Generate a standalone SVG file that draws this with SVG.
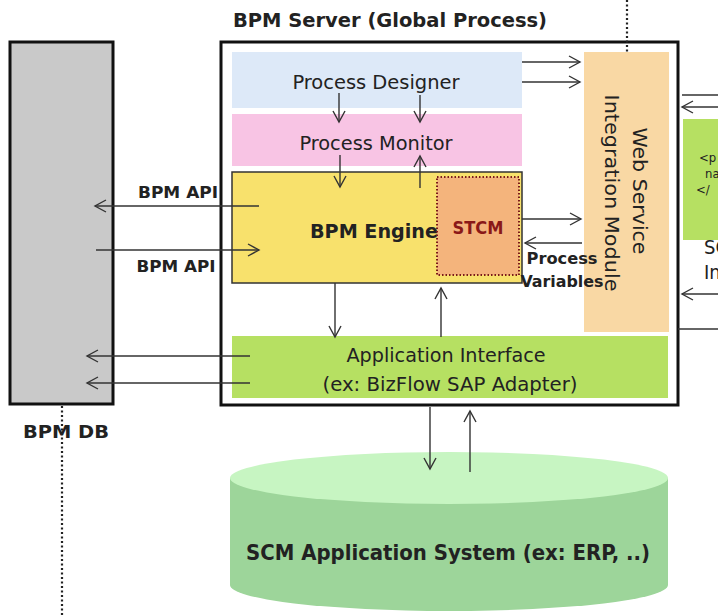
<svg xmlns="http://www.w3.org/2000/svg" width="718" height="616" viewBox="0 0 718 616">
<defs>
<marker id="ah" markerUnits="userSpaceOnUse" markerWidth="14" markerHeight="14" refX="12" refY="7" orient="auto">
<path d="M1,1 L12,7 L1,13" fill="none" stroke="#333" stroke-width="1.4"/>
</marker>
</defs>
<style>
.t{font-family:"DejaVu Sans Condensed","DejaVu Sans",sans-serif;fill:#222}
.b{font-weight:bold}
.c{stroke:#333;stroke-width:1.4;fill:none}
.a{marker-end:url(#ah)}
.dot{stroke:#222;stroke-width:2.2;stroke-dasharray:2,2.5;fill:none}
</style>
<rect width="718" height="616" fill="#fff"/>

<g id="bpm-db">
<rect x="10" y="42" width="103" height="362" fill="#c9c9c9" stroke="#111" stroke-width="3"/>
<text class="t b" x="66" y="438" font-size="18" text-anchor="middle" textLength="86" lengthAdjust="spacingAndGlyphs">BPM DB</text>
</g>

<g id="bpm-server">
<text class="t b" x="390" y="27" font-size="19" text-anchor="middle" textLength="314" lengthAdjust="spacingAndGlyphs">BPM Server (Global Process)</text>
<rect x="221" y="42" width="457" height="363" fill="#fff" stroke="#111" stroke-width="3"/>
</g>

<g id="process-designer">
<rect x="232" y="52" width="290" height="56" fill="#dde9f8"/>
<text class="t" x="376" y="89" font-size="20" text-anchor="middle" textLength="167" lengthAdjust="spacingAndGlyphs">Process Designer</text>
</g>

<g id="process-monitor">
<rect x="232" y="114" width="290" height="52" fill="#f8c4e4"/>
<text class="t" x="376" y="150" font-size="20" text-anchor="middle" textLength="153" lengthAdjust="spacingAndGlyphs">Process Monitor</text>
</g>

<g id="bpm-engine">
<rect x="232" y="172" width="290" height="111" fill="#f8e16c" stroke="#333" stroke-width="1.5"/>
<text class="t b" x="374" y="238" font-size="20" text-anchor="middle" textLength="128" lengthAdjust="spacingAndGlyphs">BPM Engine</text>
</g>

<g id="stcm">
<rect x="437" y="177" width="82" height="98" fill="#f4b47c" stroke="#7a1a1a" stroke-width="2" stroke-dasharray="1.5,2"/>
<text class="t b" x="478" y="234" font-size="17" text-anchor="middle" style="fill:#8a1818" textLength="51" lengthAdjust="spacingAndGlyphs">STCM</text>
</g>

<g id="web-service">
<rect x="584" y="52" width="85" height="280" fill="#f9d8a4"/>
<text class="t" transform="translate(633,191) rotate(90)" font-size="20" text-anchor="middle" textLength="127" lengthAdjust="spacingAndGlyphs">Web Service</text>
<text class="t" transform="translate(605,193) rotate(90)" font-size="20" text-anchor="middle" textLength="197" lengthAdjust="spacingAndGlyphs">Integration Module</text>
</g>

<g id="app-interface">
<rect x="232" y="336" width="436" height="62" fill="#b6e062"/>
<text class="t" x="446" y="362" font-size="19" text-anchor="middle" textLength="199" lengthAdjust="spacingAndGlyphs">Application Interface</text>
<text class="t" x="450" y="391" font-size="19" text-anchor="middle" textLength="255" lengthAdjust="spacingAndGlyphs">(ex: BizFlow SAP Adapter)</text>
</g>

<g id="scm-system">
<path d="M230,478 L230,585 A219,26 0 0 0 668,585 L668,478 Z" fill="#9dd59a"/>
<ellipse cx="449" cy="478" rx="219" ry="26" fill="#c7f5c2"/>
<text class="t b" x="448" y="560" font-size="21" text-anchor="middle" textLength="404" lengthAdjust="spacingAndGlyphs">SCM Application System (ex: ERP, ..)</text>
</g>

<g id="right-partial">
<rect x="683" y="119" width="35" height="121" fill="#b6e062"/>
<text class="t" x="699" y="162" font-size="13">&lt;p</text>
<text class="t" x="705" y="178" font-size="13">na</text>
<text class="t" x="696" y="194" font-size="13">&lt;/</text>
<text class="t" x="704" y="254" font-size="20">SC</text>
<text class="t" x="704" y="279" font-size="20">In</text>
</g>

<g id="labels">
<text class="t b" x="178" y="198" font-size="15" text-anchor="middle" textLength="80" lengthAdjust="spacingAndGlyphs">BPM API</text>
<text class="t b" x="176" y="272" font-size="15" text-anchor="middle" textLength="79" lengthAdjust="spacingAndGlyphs">BPM API</text>
<text class="t b" x="562" y="264" font-size="16" text-anchor="middle" textLength="71" lengthAdjust="spacingAndGlyphs">Process</text>
<text class="t b" x="562" y="287" font-size="16" text-anchor="middle" textLength="83" lengthAdjust="spacingAndGlyphs">Variables</text>
</g>

<g id="connectors">
<line class="dot" x1="62" y1="406" x2="62" y2="616"/>
<line class="dot" x1="627" y1="0" x2="627" y2="52"/>
<line class="c a" x1="522" y1="62" x2="580" y2="62"/>
<line class="c a" x1="522" y1="82" x2="580" y2="82"/>
<line class="c a" x1="339" y1="93" x2="339" y2="122"/>
<line class="c a" x1="420" y1="95" x2="420" y2="122"/>
<line class="c a" x1="340" y1="155" x2="340" y2="187"/>
<line class="c a" x1="420" y1="188" x2="420" y2="156"/>
<line class="c a" x1="259" y1="206" x2="95" y2="206"/>
<line class="c a" x1="96" y1="250" x2="259" y2="250"/>
<line class="c a" x1="522" y1="219" x2="581" y2="219"/>
<line class="c a" x1="582" y1="243" x2="525" y2="243"/>
<line class="c a" x1="335" y1="283" x2="335" y2="337"/>
<line class="c a" x1="441" y1="337" x2="441" y2="288"/>
<line class="c a" x1="250" y1="356" x2="87" y2="356"/>
<line class="c a" x1="250" y1="383" x2="87" y2="383"/>
<line class="c a" x1="430" y1="407" x2="430" y2="469"/>
<line class="c a" x1="470" y1="472" x2="470" y2="411"/>
<line class="c" x1="682" y1="95" x2="718" y2="95"/>
<line class="c a" x1="718" y1="107" x2="682" y2="107"/>
<line class="c a" x1="718" y1="294" x2="682" y2="294"/>
<line class="c" x1="678" y1="329" x2="718" y2="329"/>
</g>
</svg>
